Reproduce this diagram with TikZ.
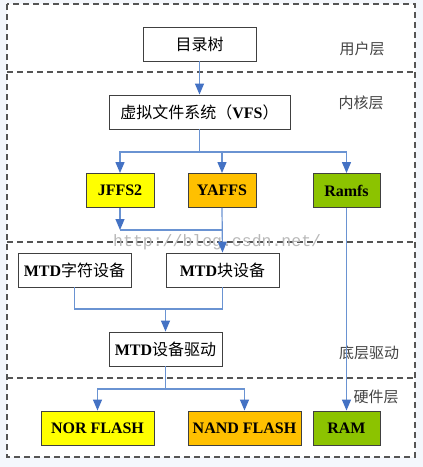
\documentclass[tikz,border=0pt]{standalone}
\usepackage{fontspec}
\setmainfont{Liberation Serif}
\newfontfamily\cjkfont{Noto Sans CJK SC}
\newcommand{\zh}[1]{{\cjkfont\mdseries #1}}
\newfontfamily\wmfont{Liberation Mono}
\usetikzlibrary{arrows.meta}
\definecolor{bgout}{HTML}{F4F7FC}
\definecolor{frame}{HTML}{555555}
\definecolor{lnblue}{HTML}{6A93D2}
\definecolor{arblue}{HTML}{4472C4}
\definecolor{cyel}{HTML}{FFFF00}
\definecolor{corg}{HTML}{FFC000}
\definecolor{cgrn}{HTML}{8CC300}
\definecolor{lblgray}{HTML}{444444}
\tikzset{
  x=1pt,y=-1pt,
  boxbase/.style={draw=black!75,line width=0.9pt,minimum height=34pt,inner sep=2pt,font=\fontsize{16}{18}\selectfont\bfseries},
  wbox/.style={boxbase,fill=white},
  ybox/.style={boxbase,fill=cyel},
  obox/.style={boxbase,fill=corg},
  gbox/.style={boxbase,fill=cgrn},
  layerline/.style={draw=frame,line width=1.3pt,dash pattern=on 6pt off 4pt},
  lbl/.style={text=lblgray,font=\fontsize{15}{17}\selectfont\cjkfont},
  conn/.style={draw=lnblue,line width=1.2pt},
  arr/.style={conn,-{Triangle[width=9pt,length=11pt,color=arblue]}},
}
\begin{document}
\begin{tikzpicture}
\useasboundingbox (0,0) rectangle (423,467);
\fill[bgout] (0,0) rectangle (423,467);
\fill[white] (7,4) rectangle (415,457);
% layer frames
\draw[layerline] (7,4) rectangle (415,457);
\draw[layerline] (7,72) -- (415,72);
\draw[layerline] (7,242) -- (415,242);
\draw[layerline] (7,378) -- (415,378);
% watermark
\node[text=black!28,font=\fontsize{16.5}{18}\selectfont\wmfont,anchor=west,inner sep=0] (wm) at (113,242) {http://blog.csdn.net/};
% layer labels
\node[lbl] (l1) at (362,49) {用户层};
\node[lbl] (l2) at (361,103) {内核层};
\node[lbl] (l3) at (369,353) {底层驱动};
\node[lbl] (l4) at (376,397) {硬件层};
% nodes
\node[wbox,minimum width=113pt] (tree) at (199.5,44) {\zh{目录树}};
\node[wbox,minimum width=181pt] (vfs) at (199.5,112) {\zh{虚拟文件系统（}VFS\zh{）}};
\node[ybox,minimum width=68pt] (jffs) at (120,190.5) {JFFS2};
\node[obox,minimum width=68pt] (yaffs) at (222,190.5) {YAFFS};
\node[gbox,minimum width=67pt] (ramfs) at (346.5,190.5) {Ramfs};
\node[wbox,minimum width=113pt] (mtdc) at (74.5,270) {MTD\zh{字符设备}};
\node[wbox,minimum width=113pt] (mtdb) at (222.5,270) {MTD\zh{块设备}};
\node[wbox,minimum width=113pt] (mtdd) at (165.5,349) {MTD\zh{设备驱动}};
\node[ybox,minimum width=113pt] (nor) at (97.5,428) {NOR FLASH};
\node[obox,minimum width=113pt] (nand) at (244.5,428) {NAND FLASH};
\node[gbox,minimum width=67pt] (ram) at (346.5,428) {RAM};
% helper coordinates
\coordinate (hb) at (0,152);
\coordinate (hj) at (0,230);
\coordinate (hm) at (0,309);
\coordinate (hh) at (0,389);
% connectors
\draw[arr] (tree.south) -- (vfs.north);
\draw[conn] (vfs.south) -- (vfs.south |- hb);
\draw[arr] (vfs.south |- hb) -| (jffs.north);
\draw[arr] (vfs.south |- hb) -| (ramfs.north);
\draw[arr] (yaffs.north |- hb) -- (yaffs.north);
\draw[arr] (jffs.south) -- (jffs.south |- hj);
\draw[conn] (jffs.south |- hj) -- (yaffs.south |- hj);
\draw[arr] (yaffs.south) -- (mtdb.north);
\draw[conn] (mtdc.south) |- (mtdb.south |- hm) -- (mtdb.south);
\draw[arr] (mtdd.north |- hm) -- (mtdd.north);
\draw[conn] (mtdd.south) -- (mtdd.south |- hh);
\draw[arr] (mtdd.south |- hh) -| (nor.north);
\draw[arr] (mtdd.south |- hh) -| (nand.north);
\draw[arr] (ramfs.south) -- (ram.north);
\end{tikzpicture}
\end{document}
